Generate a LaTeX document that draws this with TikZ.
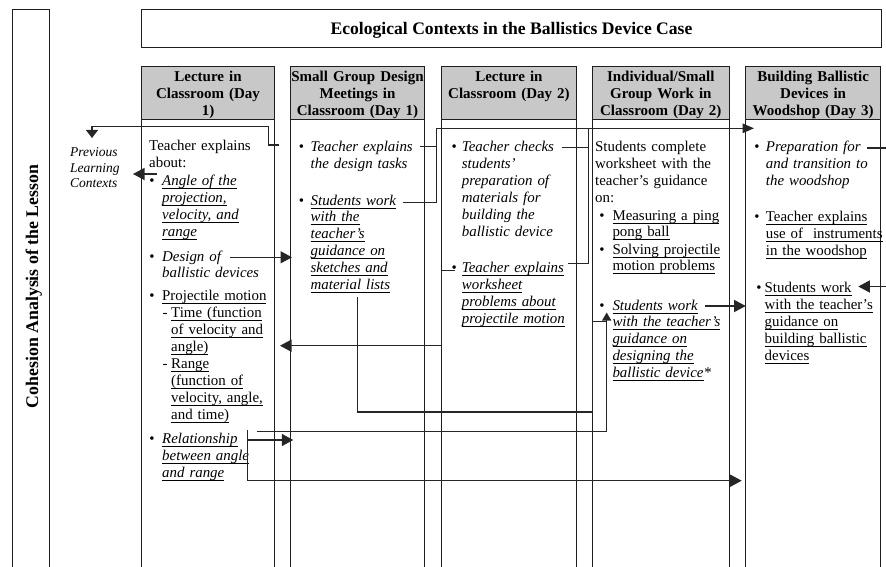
\documentclass[tikz,border=0pt]{standalone}
\usepackage{fontspec}
\setmainfont{Liberation Serif}
\usetikzlibrary{arrows.meta}
\definecolor{hdr}{RGB}{200,200,200}
\definecolor{ink}{RGB}{30,30,30}
\newsavebox\ulbox
\newcommand{\uu}[1]{\leavevmode\sbox\ulbox{#1}\rlap{\rule[-3.3pt]{\wd\ulbox}{0.8pt}}\usebox\ulbox}
\newcommand{\bodyf}{\fontsize{14.9}{16.9}\selectfont}
\newcommand{\headf}{\fontsize{15}{17}\selectfont\bfseries}
\begin{document}
\begin{tikzpicture}[x=1pt,y=-1pt,
  box/.style={draw=ink, line width=1pt},
  hd/.style={anchor=base, inner sep=0pt, text width=140pt, align=center, font=\headf},
  tx/.style={anchor=base west, inner sep=0pt, text width=150pt, align=left, font=\bodyf},
  txi/.style={tx, font=\bodyf\itshape},
  bul/.style={anchor=base, inner sep=0pt, font=\bodyf},
  conn/.style={draw=black!85, line width=1.3pt},
  arr/.style={conn, -{Triangle[length=11.5pt,width=12pt]}},
  arrs/.style={conn, -{Triangle[length=8pt,width=9pt]}},
  arrd/.style={conn, -{Triangle[length=8pt,width=12pt]}},
  arrt/.style={conn, -{Triangle[length=11.5pt,width=9.5pt]}}
]
\useasboundingbox (0,0) rectangle (886,567);
\clip (0,0) rectangle (886,567);

% frames
\draw[box] (12,9.5) rectangle (49.5,600);
\draw[box] (141.7,9.5) rectangle (881,48);
\foreach \l/\r in {141.7/274.3, 290.5/424.5, 441.7/576, 592.3/729.3, 745.7/880.5} {
  \draw[box, fill=hdr] (\l,66.3) rectangle (\r,119.3);
  \draw[box] (\l,119.3) rectangle (\r,600);
}

% titles
\node[anchor=base, inner sep=0pt, font=\fontsize{17.6}{20}\selectfont\bfseries] (title) at (511.5,35) {Ecological Contexts in the Ballistics Device Case};
\node[rotate=90, anchor=base, inner sep=0pt, font=\fontsize{17.8}{20}\selectfont\bfseries] (vlab) at (38,286.5) {Cohesion Analysis of the Lesson};

% headers
\node[hd] (h1) at (208,81.5) {Lecture in\\Classroom (Day\\1)};
\node[hd] (h2) at (357.5,81.5) {Small Group Design\\Meetings in\\Classroom (Day 1)};
\node[hd] (h3) at (508.9,81.5) {Lecture in\\Classroom (Day 2)};
\node[hd] (h4) at (660.8,81.5) {Individual/Small\\Group Work in\\Classroom (Day 2)};
\node[hd] (h5) at (813.1,81.5) {Building Ballistic\\Devices in\\Woodshop (Day 3)};

% previous contexts
\node[tx, font=\fontsize{13.5}{15.3}\selectfont\itshape] (prev) at (70,156.7) {Previous\\Learning\\Contexts};

% column 1
\node[tx] (c1i) at (149,150.8) {Teacher explains\\about:};
\node[bul] (b1a) at (152,185.5) {•};
\node[txi] (c1a) at (162,185.5) {\uu{Angle of the}\\\uu{projection,}\\\uu{velocity, and}\\\uu{range}};
\node[bul] (b1b) at (152,261) {•};
\node[txi] (c1b) at (162,261) {Design of\\ballistic devices};
\node[bul] (b1c) at (152,300.7) {•};
\node[tx] (c1c) at (162,300.7) {\uu{Projectile motion}};
\node[tx] (d1a) at (162.5,317.6) {-};
\node[tx] (c1d) at (171,317.6) {\uu{Time (function}\\\uu{of velocity and}\\\uu{angle)}};
\node[tx] (d1b) at (162.5,368.4) {-};
\node[tx] (c1e) at (171,368.4) {\uu{Range}\\\uu{(function of}\\\uu{velocity, angle,}\\\uu{and time)}};
\node[bul] (b1f) at (152,443.5) {•};
\node[txi] (c1f) at (162,443.5) {\uu{Relationship}\\\uu{between angle}\\\uu{and range}};

% column 2
\node[bul] (b2a) at (301.5,151.7) {•};
\node[txi] (c2a) at (310.5,151.7) {Teacher explains\\the design tasks};
\node[bul] (b2b) at (301.5,205) {•};
\node[txi] (c2b) at (310.5,205) {\uu{Students work}\\\uu{with the}\\\uu{teacher’s}\\\uu{guidance on}\\\uu{sketches and}\\\uu{material lists}};

% column 3
\node[bul] (b3a) at (454.3,151.7) {•};
\node[txi] (c3a) at (461.7,151.7) {Teacher checks\\students’\\preparation of\\materials for\\building the\\ballistic device};
\node[bul] (b3b) at (454.3,272.7) {•};
\node[txi] (c3b) at (461.7,272.7) {\uu{Teacher explains}\\\uu{worksheet}\\\uu{problems about}\\\uu{projectile motion}};

% column 4
\node[tx] (c4i) at (595,151.7) {\makebox[117pt][s]{Students complete}\\\makebox[117pt][s]{worksheet with the}\\\makebox[117pt][s]{teacher’s guidance}\\on:};
\node[bul] (b4a) at (602,220) {•};
\node[tx] (c4a) at (612.3,220) {\uu{Measuring a ping}\\\uu{pong ball}};
\node[bul] (b4b) at (602,254) {•};
\node[tx] (c4b) at (612.3,254) {\uu{Solving projectile}\\\uu{motion problems}};
\node[bul] (b4c) at (602,310) {•};
\node[txi] (c4c) at (612.3,310) {\uu{Students work}\\\uu{with the teacher’s}\\\uu{guidance on}\\\uu{designing the}\\\uu{ballistic device}*};

% column 5
\node[bul] (b5a) at (757,151.7) {•};
\node[txi] (c5a) at (765.7,151.7) {Preparation for\\and transition to\\the woodshop};
\node[bul] (b5b) at (757,221.7) {•};
\node[tx] (c5b) at (765.7,221.7) {\uu{Teacher explains}\\\uu{use of\ \ instruments}\\\uu{in the woodshop}};
\node[bul] (b5c) at (759,292.7) {•};
\node[tx] (c5c) at (764.5,292.7) {\uu{Students work}\\\uu{with the teacher’s}\\\uu{guidance on}\\\uu{building ballistic}\\\uu{devices}};

% connector points
\coordinate (a0) at (279.3,145);
\coordinate (a1) at (268.3,145);
\coordinate (a2) at (268.3,126.7);
\coordinate (a3) at (92,126.7);
\coordinate (a4) at (92,138);
\coordinate (bS) at (157,174);
\coordinate (bE) at (133,174);
\coordinate (cS) at (230,257.3);
\coordinate (cE) at (292,257.3);
\coordinate (d0) at (455,270.7);
\coordinate (d1) at (441.7,270.7);
\coordinate (d2) at (441.7,345.7);
\coordinate (d3) at (280,345.7);
\coordinate (e0) at (357.7,297);
\coordinate (e1) at (357.7,412);
\coordinate (e2) at (592.3,412);
\coordinate (e3) at (592.3,321.7);
\coordinate (e4) at (606.7,321.7);
\coordinate (f0) at (256.7,431.7);
\coordinate (f1) at (606.7,431.7);
\coordinate (f2) at (606.7,312.5);
\coordinate (g0) at (247.7,430);
\coordinate (g1) at (247.7,480.7);
\coordinate (g2) at (741.7,480.7);
\coordinate (g3) at (247.7,440);
\coordinate (g4) at (293.3,440);
\coordinate (h0) at (403.3,202.7);
\coordinate (h1p) at (436.7,202.7);
\coordinate (h2p) at (436.7,128.3);
\coordinate (h3p) at (754,128.3);
\coordinate (h4p) at (420,146.5);
\coordinate (h5p) at (436.7,146.5);
\coordinate (i0) at (561.7,147.5);
\coordinate (i1) at (588.3,147.5);
\coordinate (i2) at (588.3,128.3);
\coordinate (i3) at (588.3,263.5);
\coordinate (i4) at (568.3,263.5);
\coordinate (jS) at (705,306);
\coordinate (jE) at (745.7,306);
\coordinate (kS) at (867,148);
\coordinate (kE) at (890,148);
\coordinate (lS) at (890,286.5);
\coordinate (lE) at (858.3,286.5);

% connectors
\draw[arrd] (a0) -- (a1) -- (a2) -- (a3) -- (a4);
\draw[arr] (bS) -- (bE);
\draw[arr] (cS) -- (cE);
\draw[arr] (d0) -- (d1) -- (d2) -- (d3);
\draw[conn] (e0) -- (e1) -- (e2) -- (e3) -- (e4);
\draw[arrs] (f0) -- (f1) -- (f2);
\draw[arr] (g0) -- (g1) -- (g2);
\draw[arr] (g3) -- (g4);
\draw[arrt] (h0) -- (h1p) -- (h2p) -- (h3p);
\draw[conn] (h4p) -- (h5p);
\draw[conn] (i0) -- (i1);
\draw[conn] (i2) -- (i3) -- (i4);
\draw[arr] (jS) -- (jE);
\draw[conn] (kS) -- (kE);
\draw[arr] (lS) -- (lE);
\end{tikzpicture}
\end{document}
